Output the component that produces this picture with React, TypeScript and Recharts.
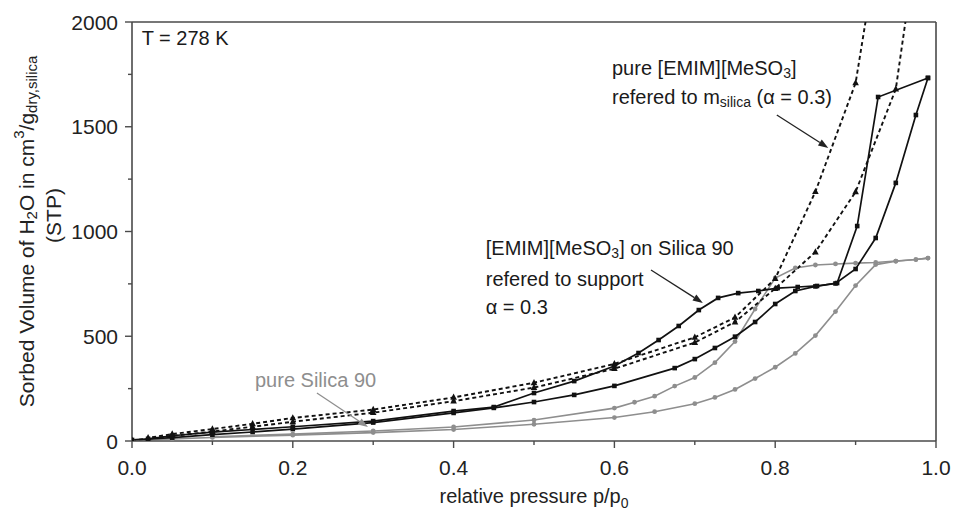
import React from 'react';
import {
  ComposedChart,
  Line,
  XAxis,
  YAxis,
  ReferenceLine,
  ReferenceDot,
} from 'recharts';

const FONT = '"Liberation Sans", Arial, Helvetica, sans-serif';
const INK = '#111111';
const GREY = '#8e8e8e';
const AXIS = '#4a4a4a';

// axis ticks
const X_TICKS = [0, 0.1, 0.2, 0.3, 0.4, 0.5, 0.6, 0.7, 0.8, 0.9, 1.0];
const Y_TICKS = [0, 250, 500, 750, 1000, 1250, 1500, 1750, 2000];

// pure Silica 90 (grey, circles)
const SILICA_ADS_P = [0, 0.05, 0.1, 0.2, 0.3, 0.4, 0.5, 0.6, 0.65, 0.7, 0.725, 0.75, 0.775, 0.8, 0.825, 0.85, 0.875, 0.9, 0.925, 0.95, 0.975, 0.99];
const SILICA_ADS_V = [4, 10, 17, 28, 40, 55, 80, 112, 140, 178, 208, 246, 298, 352, 418, 503, 618, 742, 842, 858, 866, 873];
const SILICA_DES_P = [0.99, 0.975, 0.95, 0.925, 0.9, 0.875, 0.85, 0.825, 0.8, 0.775, 0.75, 0.725, 0.7, 0.675, 0.65, 0.625, 0.6, 0.5, 0.4, 0.3, 0.2, 0.1];
const SILICA_DES_V = [873, 866, 859, 852, 849, 845, 840, 826, 778, 630, 475, 374, 303, 262, 214, 185, 157, 100, 67, 48, 33, 20];

// pure [EMIM][MeSO3] referred to m_silica (dashed, triangles)
const IL_ADS_P = [0, 0.05, 0.1, 0.15, 0.2, 0.3, 0.4, 0.5, 0.6, 0.7, 0.75, 0.8, 0.85, 0.9, 0.95, 0.975];
const IL_ADS_V = [3, 24, 45, 68, 92, 135, 190, 255, 345, 470, 568, 728, 902, 1189, 1680, 2350];
const IL_DES_P = [0.925, 0.9, 0.85, 0.8, 0.75, 0.7, 0.6, 0.5, 0.4, 0.3, 0.2, 0.15, 0.1, 0.05, 0.02];
const IL_DES_V = [2300, 1709, 1190, 775, 590, 495, 368, 278, 208, 150, 110, 82, 57, 33, 15];

// [EMIM][MeSO3] on Silica 90 (black, squares)
const SUP_ADS_P = [0, 0.05, 0.1, 0.15, 0.2, 0.3, 0.4, 0.45, 0.5, 0.55, 0.6, 0.675, 0.7, 0.725, 0.75, 0.775, 0.8, 0.825, 0.85, 0.875, 0.9, 0.925, 0.95, 0.975, 0.99];
const SUP_ADS_V = [5, 16, 30, 43, 57, 88, 134, 158, 186, 220, 263, 348, 391, 444, 498, 568, 654, 716, 738, 752, 821, 969, 1232, 1556, 1733];
const SUP_DES_P = [0.99, 0.928, 0.902, 0.877, 0.852, 0.828, 0.803, 0.779, 0.754, 0.729, 0.705, 0.68, 0.655, 0.63, 0.6, 0.55, 0.5, 0.45, 0.4, 0.3, 0.2, 0.1, 0.05, 0.02];
const SUP_DES_V = [1733, 1642, 1026, 754, 740, 735, 730, 716, 706, 683, 625, 549, 482, 420, 358, 286, 229, 162, 143, 95, 68, 42, 25, 10];

// annotation anchors (data coordinates)
const NOTE_TEMP = { x: 0.012, y: 1924 };
const NOTE_IL = [{ x: 0.597, y: 1782 }, { x: 0.597, y: 1642 }];
const NOTE_SUP = [{ x: 0.44, y: 921 }, { x: 0.44, y: 773 }, { x: 0.44, y: 640 }];
const NOTE_SILICA = { x: 0.153, y: 291 };
const ARROW_IL = [{ x: 0.802, y: 1556 }, { x: 0.866, y: 1399 }];
const ARROW_SUP = [{ x: 0.6455, y: 816 }, { x: 0.71, y: 659 }];
const ARROW_SILICA = [{ x: 0.23, y: 229 }, { x: 0.2935, y: 67 }];

const zip = (p: number[], v: number[]) => p.map((x, i) => ({ x, y: v[i] }));

const silicaAds = zip(SILICA_ADS_P, SILICA_ADS_V);
const silicaDes = zip(SILICA_DES_P, SILICA_DES_V);
const ilAds = zip(IL_ADS_P, IL_ADS_V);
const ilDes = zip(IL_DES_P, IL_DES_V);
const supAds = zip(SUP_ADS_P, SUP_ADS_V);
const supDes = zip(SUP_DES_P, SUP_DES_V);

const ok = (p: any) => Number.isFinite(p.cx) && Number.isFinite(p.cy);

const SquareDot = (p: any) =>
  ok(p) ? <rect key={p.key} x={p.cx - 2.3} y={p.cy - 2.3} width={4.6} height={4.6} fill={INK} /> : <g key={p.key} />;

const CircleDot = (p: any) =>
  ok(p) ? <circle key={p.key} cx={p.cx} cy={p.cy} r={2.4} fill={GREY} /> : <g key={p.key} />;

const TriangleDot = (p: any) =>
  ok(p) ? (
    <polygon
      key={p.key}
      points={`${p.cx},${p.cy - 3.8} ${p.cx + 3.3},${p.cy + 2.4} ${p.cx - 3.3},${p.cy + 2.4}`}
      fill={INK}
    />
  ) : (
    <g key={p.key} />
  );

const YTick = ({ x, y, payload }: any) => {
  const major = payload.value % 500 === 0;
  return (
    <g>
      <line x1={x} x2={x - (major ? 7 : 4)} y1={y} y2={y} stroke={AXIS} strokeWidth={1.4} />
      {major && (
        <text x={x - 14} y={y} textAnchor="end" dominantBaseline="central" fontSize={21} fontFamily={FONT} fill="#222">
          {payload.value}
        </text>
      )}
    </g>
  );
};

const XTick = ({ x, y, payload }: any) => {
  const major = Math.round(payload.value * 10) % 2 === 0;
  return (
    <g>
      <line x1={x} x2={x} y1={y} y2={y + (major ? 7 : 4)} stroke={AXIS} strokeWidth={1.4} />
      {major && (
        <text x={x} y={y + 26} textAnchor="middle" dominantBaseline="central" fontSize={21} fontFamily={FONT} fill="#222">
          {payload.value.toFixed(1)}
        </text>
      )}
    </g>
  );
};

const YLabel = (props: any) => {
  const vb = props.viewBox;
  const cy = vb.y + vb.height / 2;
  const x1 = vb.x + 18;
  const x2 = vb.x + 45;
  const cy2 = cy - 16;
  return (
    <g fontFamily={FONT} fontSize={21} fill="#222">
      <text x={x1} y={cy} transform={`rotate(-90 ${x1} ${cy})`} textAnchor="middle" dominantBaseline="central">
        Sorbed Volume of H
        <tspan fontSize={15} dy={5}>2</tspan>
        <tspan dy={-5}>O in cm</tspan>
        <tspan fontSize={15} dy={-8}>3</tspan>
        <tspan dy={8}>/g</tspan>
        <tspan fontSize={15} dy={5}>dry,silica</tspan>
      </text>
      <text x={x2} y={cy2} transform={`rotate(-90 ${x2} ${cy2})`} textAnchor="middle" dominantBaseline="central">
        (STP)
      </text>
    </g>
  );
};

const XLabel = (props: any) => {
  const vb = props.viewBox;
  return (
    <text x={vb.x + vb.width / 2} y={vb.y + 62} textAnchor="middle" fontSize={20} fontFamily={FONT} fill="#222">
      relative pressure p/p
      <tspan fontSize={14} dy={5}>0</tspan>
    </text>
  );
};

const note = (content: React.ReactNode, color = '#1a1a1a') => (p: any) => (
  <text x={p.cx} y={p.cy} dominantBaseline="central" fontSize={20} fontFamily={FONT} fill={color}>
    {content}
  </text>
);

const arrow = (color: string) => (p: any) => {
  const { x1, y1, x2, y2 } = p;
  const a = Math.atan2(y2 - y1, x2 - x1);
  const len = 10;
  const w = 3.6;
  const bx = x2 - len * Math.cos(a);
  const by = y2 - len * Math.sin(a);
  const nx = -Math.sin(a) * w;
  const ny = Math.cos(a) * w;
  return (
    <g>
      <line x1={x1} y1={y1} x2={bx} y2={by} stroke={color} strokeWidth={1.3} />
      <polygon points={`${x2},${y2} ${bx + nx},${by + ny} ${bx - nx},${by - ny}`} fill={color} />
    </g>
  );
};

export default function App() {
  return (
    <div style={{ position: 'absolute', left: 0, top: 0, width: 954, height: 513, overflow: 'hidden' }}>
      <ComposedChart width={954} height={513} margin={{ top: 22, right: 18, left: 8, bottom: 8 }}>
        <XAxis
          type="number"
          dataKey="x"
          domain={[0, 1]}
          ticks={X_TICKS}
          interval={0}
          tickSize={0}
          tickMargin={0}
          tick={<XTick />}
          tickLine={false}
          axisLine={{ stroke: AXIS, strokeWidth: 1.6 }}
          height={64}
          allowDataOverflow
          label={XLabel}
        />
        <YAxis
          type="number"
          domain={[0, 2000]}
          ticks={Y_TICKS}
          interval={0}
          tickSize={0}
          tickMargin={0}
          tick={<YTick />}
          tickLine={false}
          axisLine={{ stroke: AXIS, strokeWidth: 1.6 }}
          width={124}
          allowDataOverflow
          label={YLabel}
        />
        <ReferenceLine y={2000} stroke={AXIS} strokeWidth={1.6} />
        <ReferenceLine x={1} stroke={AXIS} strokeWidth={1.6} />

        <Line data={silicaAds} dataKey="y" type="linear" stroke={GREY} strokeWidth={1.6} dot={CircleDot} activeDot={false} isAnimationActive={false} />
        <Line data={silicaDes} dataKey="y" type="linear" stroke={GREY} strokeWidth={1.6} dot={CircleDot} activeDot={false} isAnimationActive={false} />
        <Line data={ilAds} dataKey="y" type="linear" stroke={INK} strokeWidth={1.9} strokeDasharray="4 3" dot={TriangleDot} activeDot={false} isAnimationActive={false} />
        <Line data={ilDes} dataKey="y" type="linear" stroke={INK} strokeWidth={1.9} strokeDasharray="4 3" dot={TriangleDot} activeDot={false} isAnimationActive={false} />
        <Line data={supAds} dataKey="y" type="linear" stroke={INK} strokeWidth={1.7} dot={SquareDot} activeDot={false} isAnimationActive={false} />
        <Line data={supDes} dataKey="y" type="linear" stroke={INK} strokeWidth={1.7} dot={SquareDot} activeDot={false} isAnimationActive={false} />

        <ReferenceLine segment={ARROW_IL} shape={arrow('#222')} />
        <ReferenceLine segment={ARROW_SUP} shape={arrow('#222')} />
        <ReferenceLine segment={ARROW_SILICA} shape={arrow(GREY)} />

        <ReferenceDot x={NOTE_TEMP.x} y={NOTE_TEMP.y} r={1} shape={note('T = 278 K')} />
        <ReferenceDot
          x={NOTE_IL[0].x}
          y={NOTE_IL[0].y}
          r={1}
          shape={note(
            <>
              pure [EMIM][MeSO<tspan fontSize={14} dy={5}>3</tspan>
              <tspan dy={-5}>]</tspan>
            </>
          )}
        />
        <ReferenceDot
          x={NOTE_IL[1].x}
          y={NOTE_IL[1].y}
          r={1}
          shape={note(
            <>
              refered to m<tspan fontSize={14} dy={5}>silica</tspan>
              <tspan dy={-5}> (α = 0.3)</tspan>
            </>
          )}
        />
        <ReferenceDot
          x={NOTE_SUP[0].x}
          y={NOTE_SUP[0].y}
          r={1}
          shape={note(
            <>
              [EMIM][MeSO<tspan fontSize={14} dy={5}>3</tspan>
              <tspan dy={-5}>] on Silica 90</tspan>
            </>
          )}
        />
        <ReferenceDot x={NOTE_SUP[1].x} y={NOTE_SUP[1].y} r={1} shape={note('refered to support')} />
        <ReferenceDot x={NOTE_SUP[2].x} y={NOTE_SUP[2].y} r={1} shape={note('α = 0.3')} />
        <ReferenceDot x={NOTE_SILICA.x} y={NOTE_SILICA.y} r={1} shape={note('pure Silica 90', GREY)} />
      </ComposedChart>
    </div>
  );
}
